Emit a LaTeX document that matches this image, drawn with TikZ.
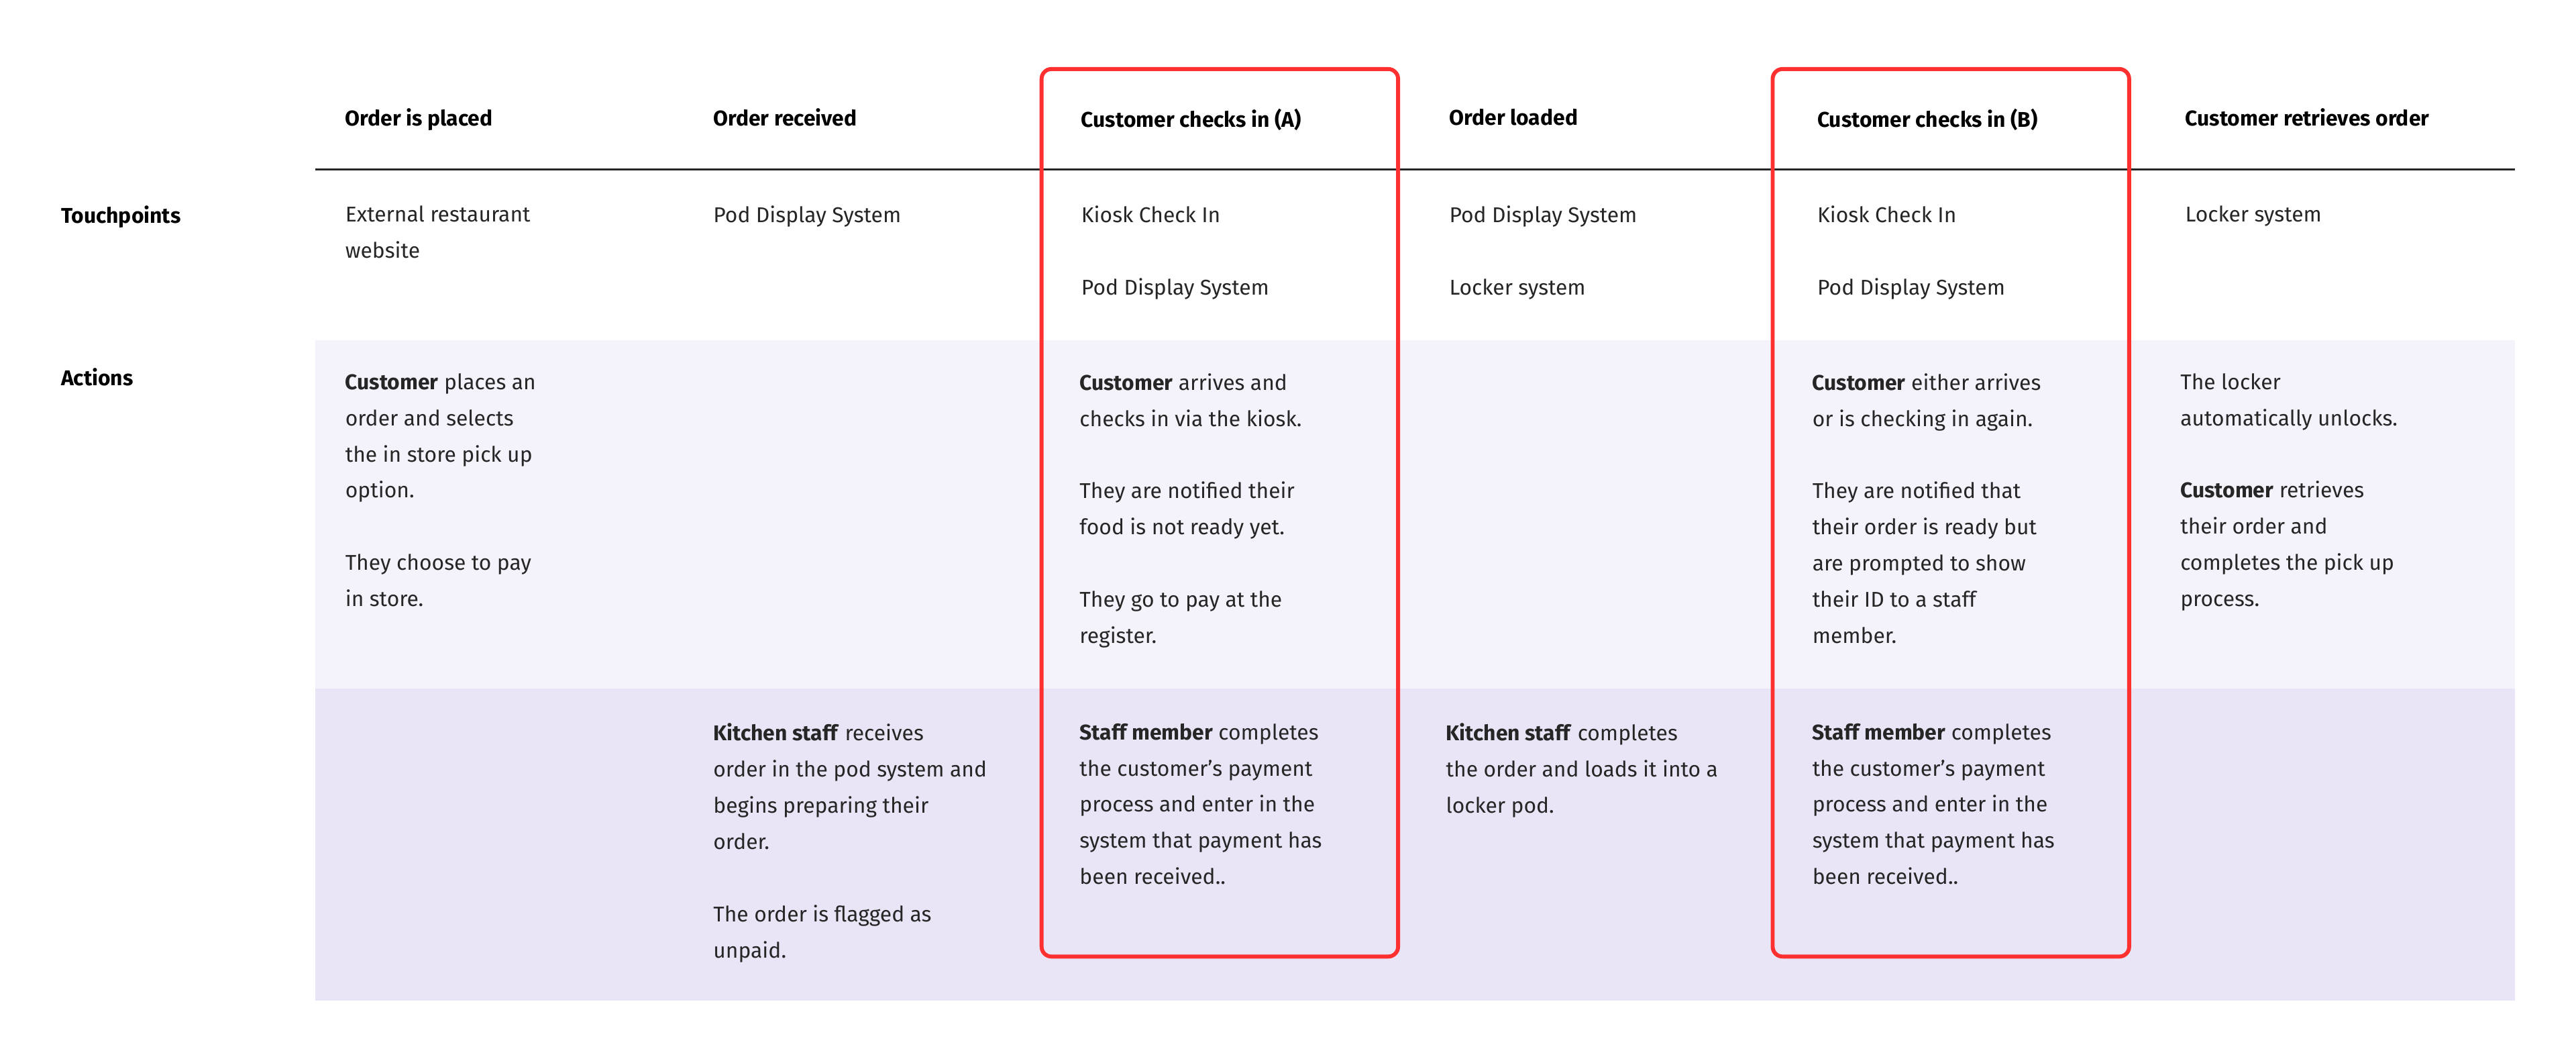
\documentclass[tikz,border=0pt]{standalone}
\usepackage{fontspec}
\setmainfont{Fira Sans}
\begin{document}
\begin{tikzpicture}[x=1pt,y=-1pt,
  txt/.style={anchor=north west,inner sep=0pt,align=left,font=\fontsize{13}{22}\selectfont,text=black!85},
  hd/.style={txt,font=\fontsize{13}{22}\selectfont\bfseries,text=black},
  redbox/.style={draw=red!75!pink,line width=2.4pt,rounded corners=6pt}]
\useasboundingbox (0,0) rectangle (1568,643);
\fill[white] (0,0) rectangle (1568,643);
\fill[fill={rgb,255:red,244;green,242;blue,251}] (192,207) rectangle (1531,419);
\fill[fill={rgb,255:red,233;green,229;blue,247}] (192,419) rectangle (1531,609);
\draw[line width=1.2pt,black!85] (192,103) -- (1531,103);
% headers
\node[hd] (h1) at (210,66) {Order is placed};
\node[hd] (h2) at (434,66) {Order received};
\node[hd] (h3) at (658,66) {Customer checks in (A)};
\node[hd] (h4) at (882,66) {Order loaded};
\node[hd] (h5) at (1106,66) {Customer checks in (B)};
\node[hd] (h6) at (1330,66) {Customer retrieves order};
\node[hd] (rt) at (37,125) {Touchpoints};
\node[hd] (ra) at (37,224) {Actions};
% touchpoints
\node[txt] (t1) at (210,125) {External restaurant\\website};
\node[txt] (t2) at (434,125) {Pod Display System};
\node[txt] (t3) at (658,125) {Kiosk Check In\\[22pt]Pod Display System};
\node[txt] (t4) at (882,125) {Pod Display System\\[22pt]Locker system};
\node[txt] (t5) at (1106,125) {Kiosk Check In\\[22pt]Pod Display System};
\node[txt] (t6) at (1330,125) {Locker system};
% actions
\node[txt] (a1) at (210,227) {\textbf{Customer} places an\\order and selects\\the in store pick up\\option.\\[22pt]They choose to pay\\in store.};
\node[txt] (a3) at (657,227) {\textbf{Customer} arrives and\\checks in via the kiosk.\\[22pt]They are notified their\\food is not ready yet.\\[22pt]They go to pay at the\\register.};
\node[txt] (a5) at (1103,227) {\textbf{Customer} either arrives\\or is checking in again.\\[22pt]They are notified that\\their order is ready but\\are prompted to show\\their ID to a staff\\member.};
\node[txt] (a6) at (1327,227) {The locker\\automatically unlocks.\\[22pt]\textbf{Customer} retrieves\\their order and\\completes the pick up\\process.};
% staff
\node[txt] (s2) at (434,440) {\textbf{Kitchen staff} receives\\order in the pod system and\\begins preparing their\\order.\\[22pt]The order is flagged as\\unpaid.};
\node[txt] (s3) at (657,440) {\textbf{Staff member} completes\\the customer’s payment\\process and enter in the\\system that payment has\\been received..};
\node[txt] (s4) at (880,440) {\textbf{Kitchen staff} completes\\the order and loads it into a\\locker pod.};
\node[txt] (s5) at (1103,440) {\textbf{Staff member} completes\\the customer’s payment\\process and enter in the\\system that payment has\\been received..};
% highlight boxes
\draw[redbox] (634,42) rectangle (851,582);
\draw[redbox] (1079,42) rectangle (1296,582);
\end{tikzpicture}
\end{document}
